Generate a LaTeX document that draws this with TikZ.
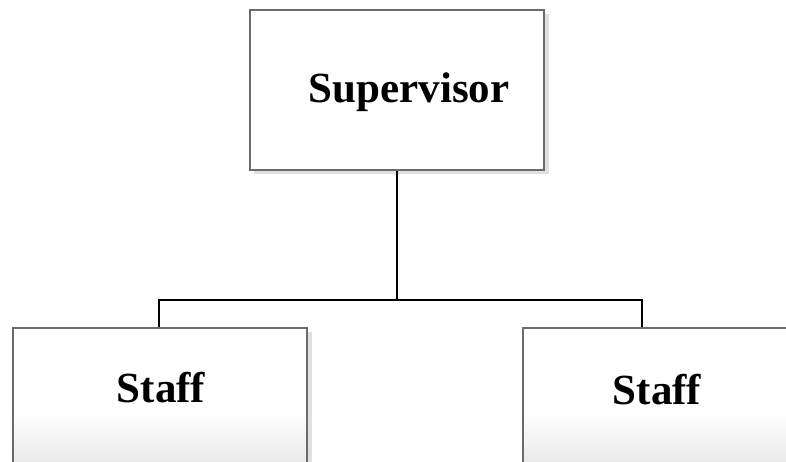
\documentclass[tikz,border=0pt]{standalone}
\usepackage{fontspec}
\setmainfont{Liberation Serif}
\begin{document}
\begin{tikzpicture}[x=1pt,y=-1pt,
  orgbox/.style={draw=black!58, line width=1.2pt, fill=white, rectangle,
    inner sep=0pt},
  boxshadow/.style={fill=black!12, draw=none},
  link/.style={draw=black, line width=1.8pt},
  title/.style={font=\fontsize{43}{50}\selectfont\bfseries, anchor=base, inner sep=0pt},
  % soft grey fade towards the lower edge, built from thin bands
  fade/.style={path picture={
    \foreach \i in {0,...,55}{
      \pgfmathsetmacro\tone{9*\i/55}
      \fill[black!\tone]
        ([yshift={-(84+\i)*1pt}]path picture bounding box.north west) rectangle
        ([yshift={-(85.2+\i)*1pt}]path picture bounding box.north east);}}}]
  \clip (0,0) rectangle (786,461);
  \fill[white] (0,0) rectangle (786,461);

  % shadows behind the boxes
  \fill[boxshadow] (544,14) rectangle (549,174);
  \fill[boxshadow] (254,170) rectangle (549,174);
  \fill[boxshadow] (307,332) rectangle (312,470);

  % boxes
  \node[orgbox, minimum width=294pt, minimum height=160pt] (sup) at (397,90) {};
  \node[orgbox, fade, minimum width=294pt, minimum height=140pt] (staffL) at (160,398) {};
  \node[orgbox, fade, minimum width=294pt, minimum height=140pt] (staffR) at (670,398) {};

  % labels
  \node[title] (supT) at (409,102) {Supervisor};
  \node[title] (staffLT) at (161,402) {Staff};
  \node[title] (staffRT) at (657,404) {Staff};

  % connectors
  \coordinate (bus) at (397,300);
  \draw[link] (sup.south) -- (bus);
  \draw[link] (staffL.north -| 159,0) -- (159,300) -- (642,300) -- (staffR.north -| 642,0);
\end{tikzpicture}
\end{document}
